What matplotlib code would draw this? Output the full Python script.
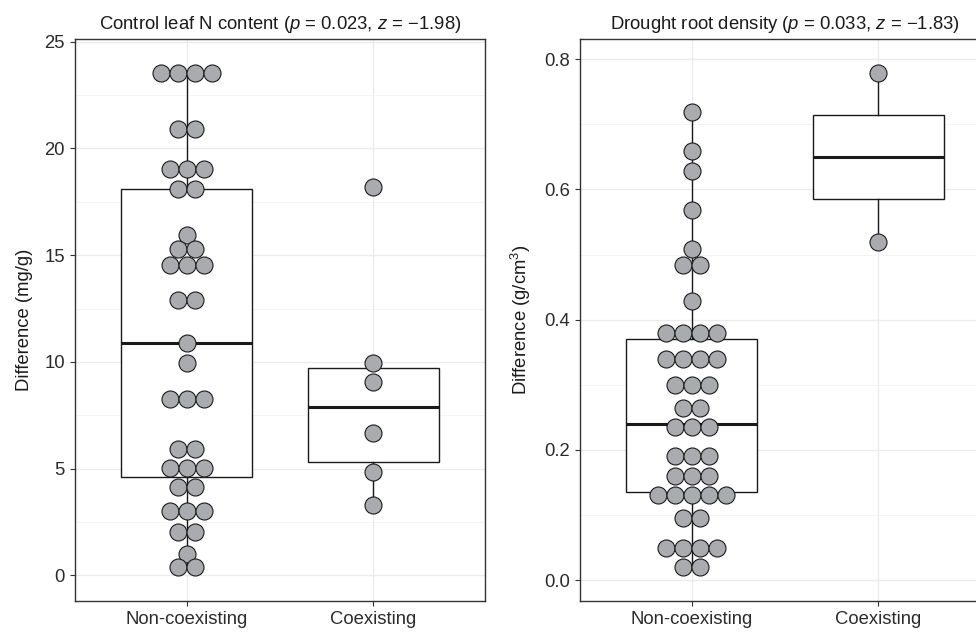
import matplotlib.pyplot as plt
import numpy as np

plt.rcParams['font.family'] = ['Liberation Sans', 'DejaVu Sans']
plt.rcParams['mathtext.fontset'] = 'custom'
plt.rcParams['mathtext.rm'] = 'Liberation Sans'
plt.rcParams['mathtext.it'] = 'Liberation Sans:italic'

groups = ['Non-coexisting', 'Coexisting']

# left panel: control leaf N content (dot rows: value, number of dots)
leaf_levels_non = [23.55, 20.9, 19.02, 18.12, 15.93, 15.3, 14.52, 12.92, 10.88,
                   9.95, 8.27, 5.92, 5.01, 4.16, 3.03, 2.05, 0.98, 0.40]
leaf_counts_non = [4, 2, 3, 2, 1, 2, 3, 2, 1, 1, 3, 2, 3, 2, 3, 2, 1, 2]
leaf_levels_co = [18.2, 9.94, 9.05, 6.69, 4.84, 3.28]
leaf_counts_co = [1, 1, 1, 1, 1, 1]
leaf_lo = [0.40, 3.28]
leaf_q1 = [4.59, 5.30]
leaf_med = [10.88, 7.88]
leaf_q3 = [18.12, 9.70]
leaf_hi = [23.55, 9.94]

# right panel: drought root density
root_levels_non = [0.719, 0.659, 0.629, 0.569, 0.509, 0.484, 0.429, 0.380, 0.340,
                   0.300, 0.265, 0.235, 0.190, 0.160, 0.130, 0.095, 0.050, 0.020]
root_counts_non = [1, 1, 1, 1, 1, 2, 1, 4, 4, 3, 2, 3, 3, 3, 5, 2, 4, 2]
root_levels_co = [0.779, 0.519]
root_counts_co = [1, 1]
root_lo = [0.02, 0.519]
root_q1 = [0.135, 0.585]
root_med = [0.240, 0.650]
root_q3 = [0.370, 0.714]
root_hi = [0.719, 0.779]

DOT_W = 0.091
DOT_FILL = '#aaabae'
LINE = '#1a1a1a'
FS = 13.3


def draw_panel(ax, levels, counts, lo, q1, med, q3, hi, ylim, yticks, title, ylabel):
    stats = []
    for i in range(len(groups)):
        stats.append({'whislo': lo[i], 'q1': q1[i], 'med': med[i],
                      'q3': q3[i], 'whishi': hi[i], 'fliers': []})
    ax.bxp(stats, positions=[1, 2], widths=0.7, showfliers=False, showcaps=False,
           patch_artist=True,
           boxprops=dict(facecolor='white', edgecolor=LINE, linewidth=1.0),
           whiskerprops=dict(color=LINE, linewidth=1.0),
           medianprops=dict(color=LINE, linewidth=2.2, solid_capstyle='butt'),
           zorder=2)

    # dots stacked sideways around the group centre
    for i in range(len(groups)):
        xs, ys = [], []
        for v, n in zip(levels[i], counts[i]):
            for k in range(n):
                xs.append(i + 1 + (k - (n - 1) / 2) * DOT_W)
                ys.append(v)
        ax.scatter(xs, ys, s=150, c=DOT_FILL, edgecolors=LINE, linewidths=0.8,
                   zorder=3, clip_on=False)

    ax.set_xlim(0.4, 2.6)
    ax.set_ylim(*ylim)
    ax.set_xticks([1, 2])
    ax.set_xticklabels(groups)
    ax.set_yticks(yticks)
    minor = (np.array(yticks[:-1]) + np.array(yticks[1:])) / 2
    ax.set_yticks(minor, minor=True)
    ax.grid(True, which='major', color='#ebebeb', linewidth=1.0, zorder=0)
    ax.grid(True, which='minor', axis='y', color='#f2f2f2', linewidth=0.6, zorder=0)
    ax.set_axisbelow(True)
    ax.tick_params(which='major', length=3.5, width=0.8, color='#333333',
                   labelsize=FS, labelcolor='#2b2b2b', pad=3.5)
    ax.tick_params(which='minor', length=0)
    for sp in ax.spines.values():
        sp.set_color('#333333')
        sp.set_linewidth(1.0)
    ax.set_title(title, fontsize=FS, color='#1a1a1a', pad=7)
    ax.set_ylabel(ylabel, fontsize=FS, color='#1a1a1a', labelpad=8)


fig = plt.figure(figsize=(9.76, 6.32), dpi=100)
ax1 = fig.add_axes([0.0765, 0.0491, 0.4207, 0.8892])
ax2 = fig.add_axes([0.5939, 0.0491, 0.4207, 0.8892])

draw_panel(ax1, [leaf_levels_non, leaf_levels_co], [leaf_counts_non, leaf_counts_co],
           leaf_lo, leaf_q1, leaf_med, leaf_q3, leaf_hi,
           (-1.2, 25.13), [0, 5, 10, 15, 20, 25],
           'Control leaf N content ($p$ = 0.023, $z$ = \u22121.98)',
           'Difference (mg/g)')
draw_panel(ax2, [root_levels_non, root_levels_co], [root_counts_non, root_counts_co],
           root_lo, root_q1, root_med, root_q3, root_hi,
           (-0.032, 0.831), [0.0, 0.2, 0.4, 0.6, 0.8],
           'Drought root density ($p$ = 0.033, $z$ = \u22121.83)',
           'Difference (g/cm$^3$)')
ax2.set_yticklabels(['0.0', '0.2', '0.4', '0.6', '0.8'])

fig.savefig('out.png', dpi=100)
